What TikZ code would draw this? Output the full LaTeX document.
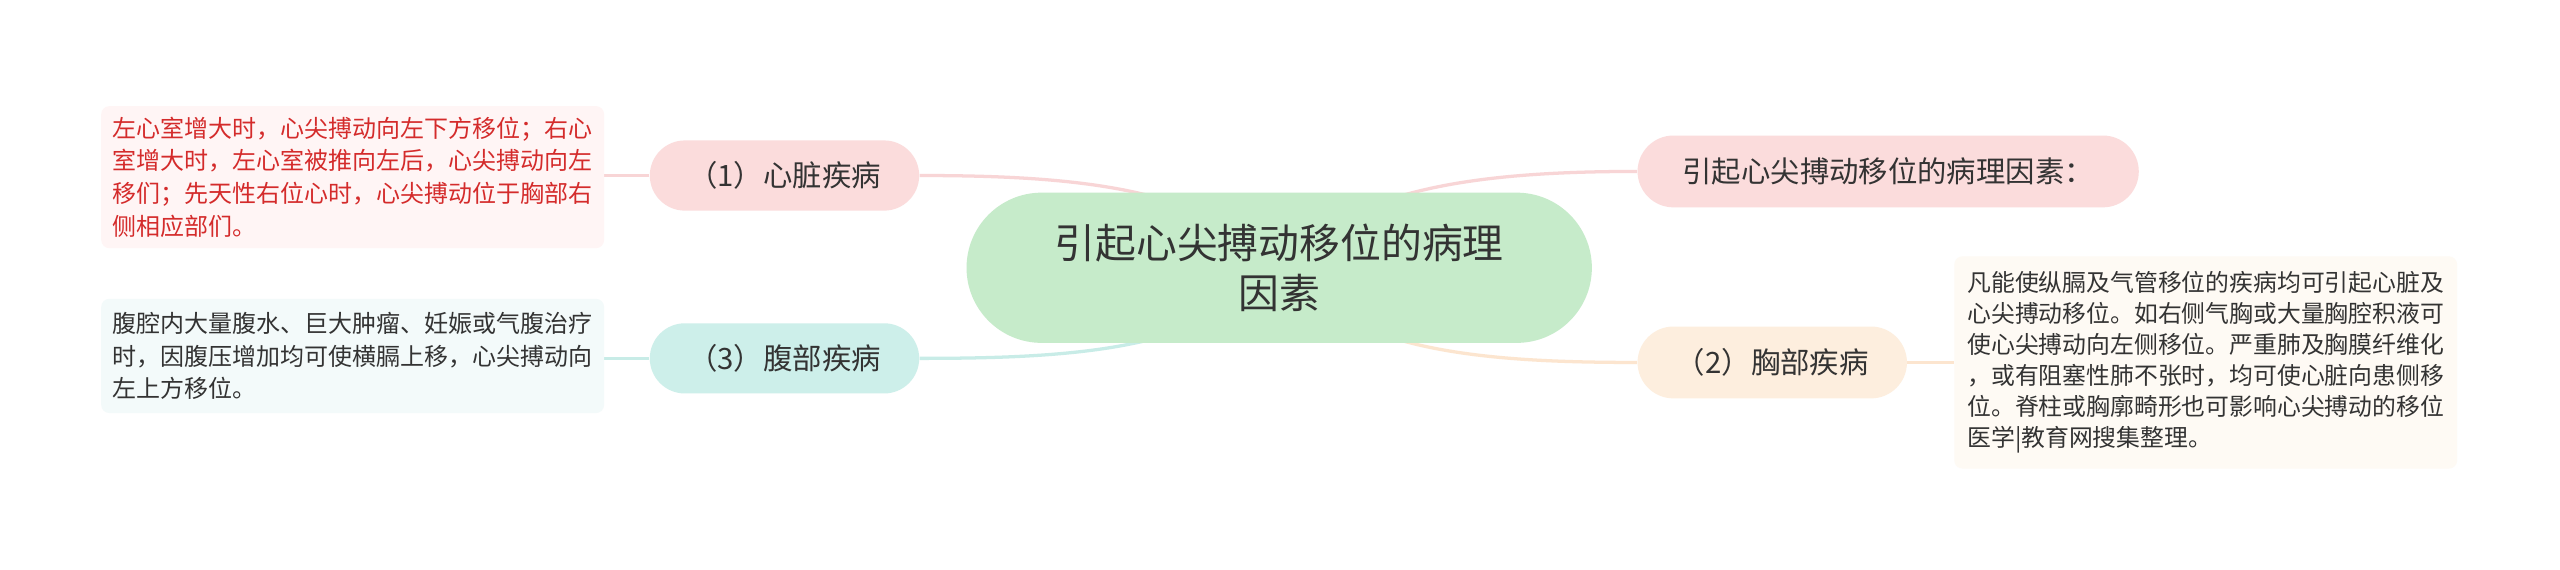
\documentclass[tikz,border=0pt]{standalone}
\usepackage{fontspec}
\newfontfamily\cjk{Noto Sans CJK SC}
\pgfdeclarelayer{paper}
\pgfdeclarelayer{bg}
\pgfsetlayers{paper,bg,main}
\definecolor{centerfill}{HTML}{C6EBCA}
\definecolor{pinkfill}{HTML}{FBDCDC}
\definecolor{cyanfill}{HTML}{CDEFEA}
\definecolor{peachfill}{HTML}{FDEEDE}
\definecolor{pinkbox}{HTML}{FFF5F5}
\definecolor{cyanbox}{HTML}{F3FAFA}
\definecolor{peachbox}{HTML}{FEFAF4}
\definecolor{pinkline}{HTML}{F8D5D6}
\definecolor{cyanline}{HTML}{C8ECE7}
\definecolor{peachline}{HTML}{FCE5CF}
\definecolor{txt}{HTML}{333333}
\definecolor{redtxt}{HTML}{D42B2B}
\tikzset{
  rootnode/.style={fill=centerfill, rounded corners=46pt, minimum width=383pt, minimum height=92pt, inner sep=0pt, align=center, text=txt, font=\cjk\fontsize{25pt}{31pt}\selectfont},
  topicnode/.style={rounded corners=21.5pt, minimum width=165pt, minimum height=43pt, inner sep=0pt, text=txt, font=\cjk\fontsize{18pt}{22pt}\selectfont},
  detailnode/.style={rounded corners=5pt, minimum width=308pt, inner sep=0pt, align=left, text=txt, font=\cjk\fontsize{14.7pt}{20pt}\selectfont},
  link/.style={line width=2pt}
}
\begin{document}
\begin{tikzpicture}[x=1pt,y=-1pt]
\begin{pgfonlayer}{paper}
\fill[white] (0,0) rectangle (1568,349);
\end{pgfonlayer}
\useasboundingbox (0,0) rectangle (1568,349);
% root
\node[rootnode] (root) at (783.5,164) {引起心尖搏动移位的病理\\因素};
% topics
\node[topicnode, fill=pinkfill] (n1) at (480.5,107.5) {（1）心脏疾病};
\node[topicnode, fill=cyanfill] (n3) at (480.5,219.5) {（3）腹部疾病};
\node[topicnode, fill=pinkfill, minimum width=307pt, minimum height=44pt, rounded corners=22pt] (nr) at (1156.5,105) {引起心尖搏动移位的病理因素：};
\node[topicnode, fill=peachfill, minimum height=44pt, rounded corners=22pt] (n2) at (1085.5,222) {（2）胸部疾病};
% details
\node[detailnode, fill=pinkbox, text=redtxt, minimum height=87pt] (d1) at (216,108.5) {左心室增大时，心尖搏动向左下方移位；右心\\室增大时，左心室被推向左后，心尖搏动向左\\移们；先天性右位心时，心尖搏动位于胸部右\\侧相应部们。};
\node[detailnode, fill=cyanbox, minimum height=70pt] (d3) at (216,218) {腹腔内大量腹水、巨大肿瘤、妊娠或气腹治疗\\时，因腹压增加均可使横膈上移，心尖搏动向\\左上方移位。};
\node[detailnode, fill=peachbox, minimum height=130pt, font=\cjk\fontsize{14.6pt}{19pt}\selectfont] (d2) at (1351,222) {凡能使纵膈及气管移位的疾病均可引起心脏及\\心尖搏动移位。如右侧气胸或大量胸腔积液可\\使心尖搏动向左侧移位。严重肺及胸膜纤维化\\，或有阻塞性肺不张时，均可使心脏向患侧移\\位。脊柱或胸廓畸形也可影响心尖搏动的移位\\医学|教育网搜集整理。};
\begin{pgfonlayer}{bg}
\draw[link, pinkline] (n1.east) .. controls (660,107.5) and (740,115) .. (root.center);
\draw[link, pinkline] (nr.west) .. controls (906,105) and (826,115) .. (root.center);
\draw[link, cyanline] (n3.east) .. controls (660,219.5) and (740,214) .. (root.center);
\draw[link, peachline] (n2.west) .. controls (906,222) and (826,215) .. (root.center);
\draw[link, pinkline] (n1.west) -- (d1.east |- n1.west);
\draw[link, cyanline] (n3.west) -- (d3.east |- n3.west);
\draw[link, peachline] (n2.east) -- (d2.west |- n2.east);
\end{pgfonlayer}
\end{tikzpicture}
\end{document}
